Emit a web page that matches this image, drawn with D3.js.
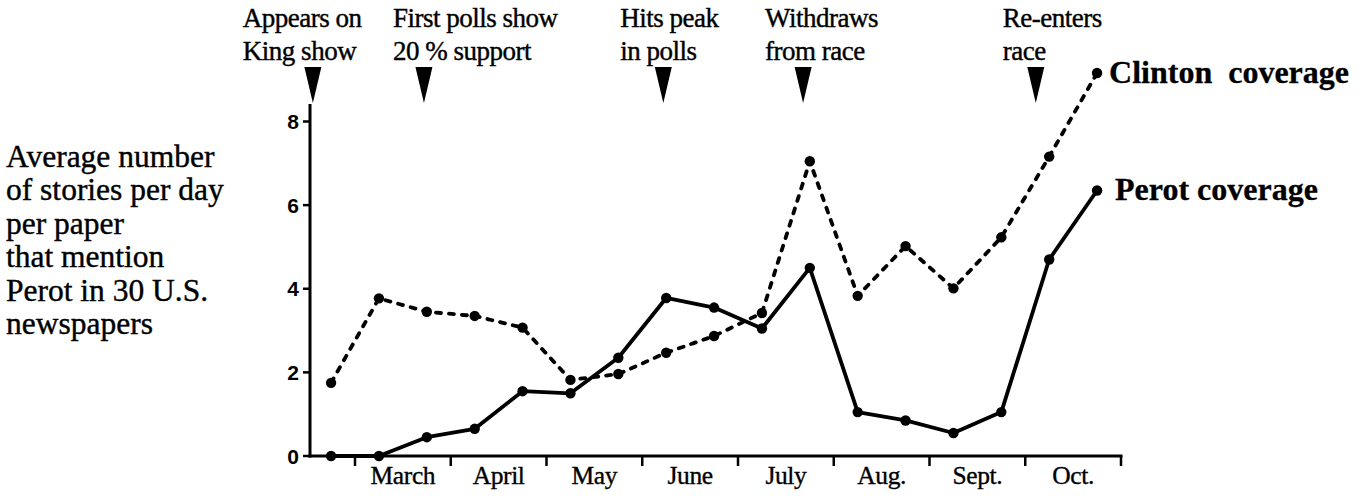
<!DOCTYPE html>
<html>
<head>
<meta charset="utf-8">
<script src="https://cdn.jsdelivr.net/npm/d3@7"></script>
<style>
  body { margin: 0; background: #fff; }
  svg { display: block; }
</style>
</head>
<body>
<svg width="1370" height="498"></svg>
<script>
// month labels (between the tick marks), boundaries are 0..8
var months = ["March", "April", "May", "June", "July", "Aug.", "Sept.", "Oct."];
// time of each half-month reading, in months after March 1
var halfMonths = [-0.25, 0.25, 0.75, 1.25, 1.75, 2.25, 2.75, 3.25, 3.75, 4.25, 4.75, 5.25, 5.75, 6.25, 6.75, 7.25, 7.75];
// average stories per day per paper
var perot   = [0, 0, 0.45, 0.65, 1.55, 1.5, 2.35, 3.78, 3.55, 3.05, 4.5, 1.05, 0.85, 0.55, 1.05, 4.7, 6.35];
var clinton = [1.75, 3.77, 3.45, 3.35, 3.07, 1.82, 1.96, 2.47, 2.87, 3.42, 7.05, 3.83, 5.02, 4.01, 5.23, 7.16, 9.16];
var yTicks = [0, 2, 4, 6, 8];
// events marked with arrows along the top
var eventTimes = [-0.44, 0.72, 3.22, 4.68, 7.11];
var eventText = [
  ["Appears on", "King show"],
  ["First polls show", "20 % support"],
  ["Hits peak", "in polls"],
  ["Withdraws", "from race"],
  ["Re-enters", "race"]
];
var yTitle = ["Average number", "of stories per day", "per paper", "that mention", "Perot in 30 U.S.", "newspapers"];

var SERIF = "'Liberation Serif', 'Times New Roman', Times, serif";
var SANS = "'Liberation Sans', Arial, Helvetica, sans-serif";

var svg = d3.select("svg");

//////////// SCALES ////////////
var x = d3.scaleLinear().domain([0, 8]).range([355, 1121]);
var y = d3.scaleLinear().domain([0, 8]).range([456, 121.5]);
var xStart = x(-0.47);

// the scan makes every glyph a bit heavy
function inked(sel, w) {
  return sel.attr("stroke", "#000").attr("stroke-width", w).attr("fill", "#000");
}

//////////// AXES ////////////
// y axis line runs a bit above the 8 tick
svg.append("line")
  .attr("x1", xStart).attr("x2", xStart)
  .attr("y1", y(0) + 1.5).attr("y2", y(8.42))
  .attr("stroke", "#000").attr("stroke-width", 3);

svg.selectAll(".ytick").data(yTicks).enter().append("line")
  .attr("class", "ytick")
  .attr("x1", xStart - 7).attr("x2", xStart)
  .attr("y1", function(d) { return y(d); })
  .attr("y2", function(d) { return y(d); })
  .attr("stroke", "#000").attr("stroke-width", 2.5);

svg.selectAll(".ylab").data(yTicks).enter().append("text")
  .attr("class", "ylab")
  .attr("font-family", SANS)
  .attr("font-weight", "bold")
  .attr("x", xStart - 11)
  .attr("y", function(d) { return y(d); })
  .attr("dy", "0.36em")
  .attr("text-anchor", "end")
  .attr("font-size", 21)
  .text(function(d) { return d; });

// x axis
svg.append("line")
  .attr("x1", xStart - 1.5).attr("x2", x(8) + 1.5)
  .attr("y1", y(0)).attr("y2", y(0))
  .attr("stroke", "#000").attr("stroke-width", 3);

svg.selectAll(".xtick").data(d3.range(0, months.length + 1)).enter().append("line")
  .attr("class", "xtick")
  .attr("x1", function(d) { return x(d); })
  .attr("x2", function(d) { return x(d); })
  .attr("y1", y(0)).attr("y2", y(0) + 10)
  .attr("stroke", "#000").attr("stroke-width", 2.5);

inked(svg.selectAll(".xlab").data(months).enter().append("text"), 0.35)
  .attr("class", "xlab")
  .attr("font-family", SERIF)
  .attr("x", function(d, i) { return x(i + 0.5); })
  .attr("y", 484)
  .attr("text-anchor", "middle")
  .attr("font-size", 25.5)
  .attr("letter-spacing", -0.4)
  .text(function(d) { return d; });

// y axis title
inked(svg.append("text"), 0.4)
  .attr("font-family", SERIF)
  .attr("font-size", 31.5)
  .selectAll("tspan").data(yTitle).enter().append("tspan")
  .attr("x", 6)
  .attr("y", function(d, i) { return 167 + i * 33.4; })
  .text(function(d) { return d; });

//////////// LINES ////////////
var line = d3.line()
  .x(function(d, i) { return x(halfMonths[i]); })
  .y(function(d) { return y(d); });

svg.append("path")
  .datum(clinton)
  .attr("d", line)
  .attr("fill", "none")
  .attr("stroke", "#000")
  .attr("stroke-width", 3.8)
  .attr("stroke-linecap", "round")
  .attr("stroke-dasharray", "5,8");

svg.append("path")
  .datum(perot)
  .attr("d", line)
  .attr("fill", "none")
  .attr("stroke", "#000")
  .attr("stroke-width", 3.8)
  .attr("stroke-linejoin", "round");

[clinton, perot].forEach(function(series) {
  svg.append("g").selectAll("circle").data(series).enter().append("circle")
    .attr("cx", function(d, i) { return x(halfMonths[i]); })
    .attr("cy", function(d) { return y(d); })
    .attr("r", 5.2)
    .attr("fill", "#000");
});

// series labels at the last point
var last = halfMonths.length - 1;
inked(svg.append("text"), 0.3)
  .attr("font-family", SERIF)
  .attr("font-weight", "bold")
  .attr("font-size", 32)
  .attr("x", x(halfMonths[last]) + 12)
  .attr("y", y(clinton[last]) + 10)
  .style("white-space", "pre")
  .text("Clinton  coverage");

inked(svg.append("text"), 0.3)
  .attr("font-family", SERIF)
  .attr("font-weight", "bold")
  .attr("font-size", 32)
  .attr("x", x(halfMonths[last]) + 18)
  .attr("y", y(perot[last]) + 10)
  .text("Perot coverage");

//////////// EVENTS ////////////
var textOffset = [-70, -31, -43, -38, -33];
var ev = svg.selectAll(".event").data(eventTimes).enter().append("g")
  .attr("class", "event")
  .attr("transform", function(d) { return "translate(" + x(d) + ",0)"; });

ev.append("path")
  .attr("d", "M-8.5,67 L8.5,67 L0,103 Z")
  .attr("fill", "#000");

ev.each(function(d, i) {
  inked(d3.select(this).append("text"), 0.4)
    .attr("font-family", SERIF)
    .attr("font-size", 27)
    .attr("letter-spacing", -0.5)
    .selectAll("tspan").data(eventText[i]).enter().append("tspan")
    .attr("x", textOffset[i])
    .attr("y", function(t, j) { return 27 + j * 33; })
    .text(function(t) { return t; });
});
</script>
</body>
</html>
